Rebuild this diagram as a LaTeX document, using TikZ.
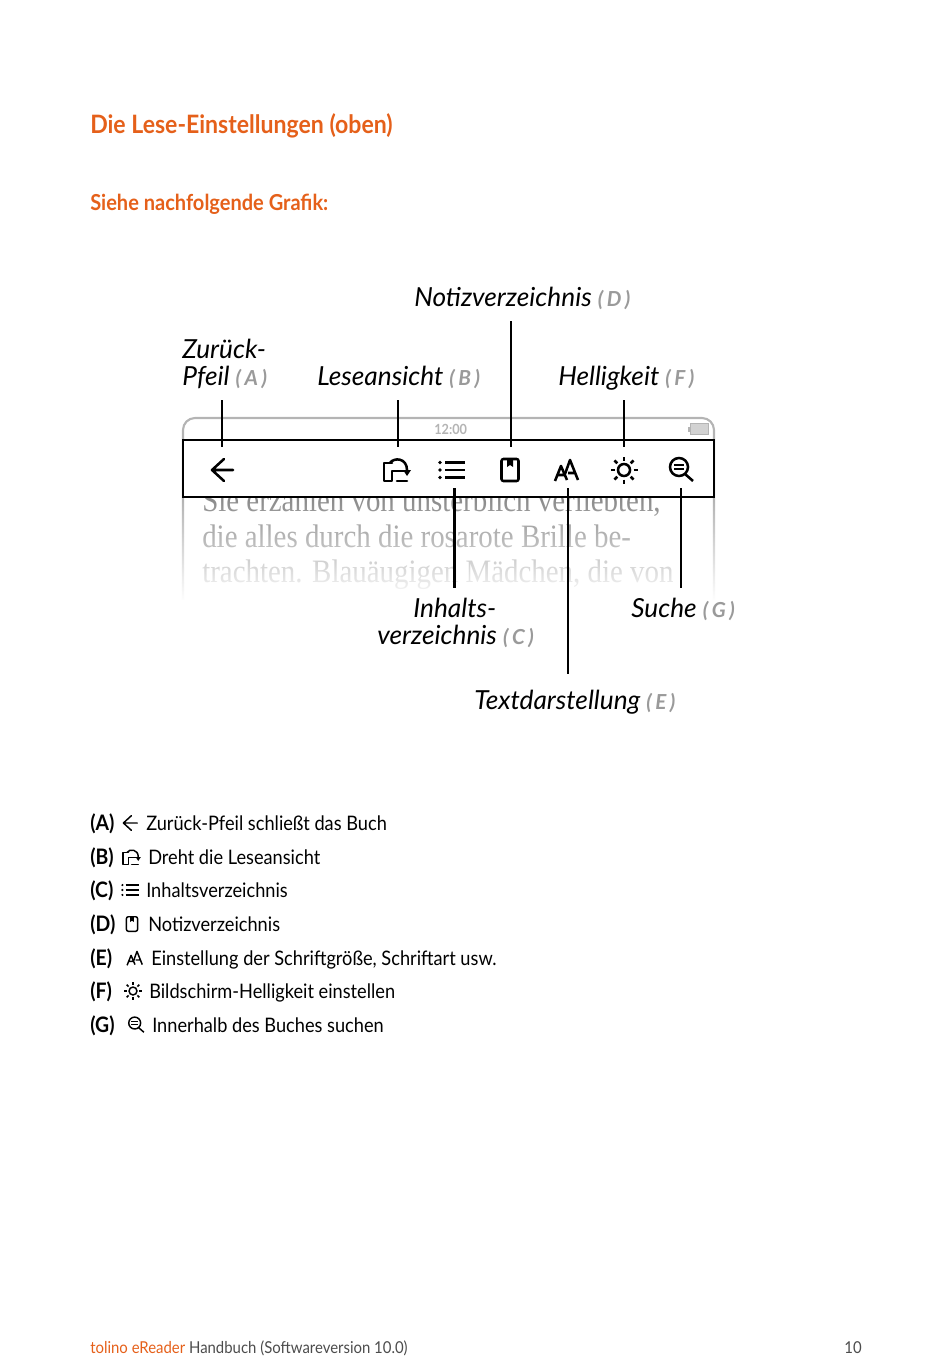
\documentclass[tikz,border=0pt]{standalone}
\usepackage{fontspec}
\usepackage{xcolor}
\setmainfont[FakeStretch=0.91]{Lato}
\newfontfamily\callfont{Lato}
\newfontfamily\readfont[FakeStretch=0.885]{Liberation Serif}
\usetikzlibrary{arrows.meta,fadings}
\definecolor{tolorange}{HTML}{E5601A}
\definecolor{taggray}{HTML}{9A9A9A}
\definecolor{framegray}{HTML}{B4B4B4}
\newcommand{\tagl}[1]{{\fontsize{15.5}{18}\selectfont\bfseries\color{taggray}(\,#1\,)}}

\begin{document}
\begin{tikzpicture}[
  x=0.75pt, y=-0.75pt,
  txt/.style={inner sep=0, anchor=base west, font=\fontsize{15}{20}\selectfont},
  key/.style={txt, font=\fontsize{16}{20}\selectfont\bfseries},
  callout/.style={inner sep=0, anchor=base west, align=left, font=\fontsize{19.7}{20.25}\selectfont\callfont\itshape},
  readline/.style={inner sep=0, anchor=base west, text=black!45, font=\fontsize{24.5}{26}\selectfont\readfont},
  leader/.style={line width=1.9pt},
  backicon/.pic={\draw[line cap=round, line join=round] (-10,0) -- (11,0) (2,-11) -- (-10,0) -- (2,11);},
  rotateicon/.pic={
    \draw[line cap=round, line join=round] (-4,-7) -- (-12,-7) -- (-12,11) -- (-4,11) -- (-4,1) -- (11,1) (1,11) -- (11,11);
    \draw[line cap=round] (-6,-7) .. controls (-2,-13) and (11,-12) .. (11,0);
    \fill (7,0) -- (15,0) -- (11,6) -- cycle;},
  listicon/.pic={
    \draw (-8,-7.5) -- (12,-7.5) (-8,0) -- (12,0) (-8,7.5) -- (12,7.5);
    \fill (-13,-7.5) circle (1.8) (-13,0) circle (1.8) (-13,7.5) circle (1.8);},
  noteicon/.pic={
    \draw[rounded corners=1.5pt] (-8.5,-11) rectangle (8.5,11);
    \fill (-3,-11) -- (3,-11) -- (3,-3) -- (0,-5) -- (-3,-3) -- cycle;},
  fonticon/.pic={
    \draw[line join=round] (-12,11) -- (-6,-4) -- (0,10) (-9.5,5) -- (-2,5);
    \draw[line join=round] (-2,4) -- (3,-10) -- (11,10) (1,3) -- (8,3);},
  sunicon/.pic={
    \draw (0,0) circle (6);
    \foreach \ang in {0,45,...,315} {\draw (\ang:9.5) -- (\ang:13.5);}},
  searchicon/.pic={
    \draw (-2,-3) circle (9);
    \draw (4,4) -- (12,11);
    \draw (-7,-5) -- (3,-5) (-7,-1) -- (3,-1);},
  bigicon/.style={line width=1.9pt},
  smallicon/.style={scale=0.66, line width=1.1pt}
]
  \useasboundingbox (0,0) rectangle (950,1369);

  % head
  \node[inner sep=0, anchor=base west, text=tolorange, font=\fontsize{19}{22}\selectfont\bfseries] (title) at (90,134) {Die Lese-Einstellungen (oben)};
  \node[inner sep=0, anchor=base west, text=tolorange, font=\fontsize{16.5}{20}\selectfont\bfseries] (sub) at (90,211) {Siehe nachfolgende Grafik:};

  % device
  \node[readline] (line1) at (202,511) {Sie erzählen von unsterblich verliebten,};
  \node[readline] (line2) at (202,547) {die alles durch die rosarote Brille be-};
  \node[readline] (line3) at (202,582) {trachten. Blauäugigen Mädchen, die von};
  \draw[framegray, line width=1.6pt, rounded corners=9pt] (183,600) -- (183,418) -- (714,418) -- (714,600);
  \fill[white, path fading=north] (180,500) rectangle (718,601);
  \node[inner sep=0, anchor=base west, text=framegray, font=\fontsize{10.5}{12}\selectfont\bfseries] (clock) at (434,434) {12:00};
  \fill[framegray] (687.5,426.5) rectangle (690,431.5);
  \draw[framegray, line width=.6pt, fill=framegray!60] (690,423.5) rectangle (708.5,434);
  \draw[line width=2pt, fill=white] (183,440) rectangle (714,497);

  \pic[bigicon] at (222,470) {backicon};
  \pic[bigicon] at (396,470) {rotateicon};
  \pic[bigicon] at (453,470) {listicon};
  \pic[bigicon] at (510,470) {noteicon};
  \pic[bigicon] at (567,470) {fonticon};
  \pic[bigicon] at (624,470) {sunicon};
  \pic[bigicon] at (681,470) {searchicon};

  % callouts
  \node[callout] (lblA) at (182,385) {Zurück-\\Pfeil \tagl{A}};
  \node[callout] (lblB) at (317,385) {Leseansicht \tagl{B}};
  \node[callout] (lblC) at (377,644) {\hspace*{27pt}Inhalts-\\verzeichnis \tagl{C}};
  \node[callout] (lblD) at (414,306) {Notizverzeichnis \tagl{D}};
  \node[callout] (lblE) at (474,709) {Textdarstellung \tagl{E}};
  \node[callout] (lblF) at (558,385) {Helligkeit \tagl{F}};
  \node[callout] (lblG) at (631,617) {Suche \tagl{G}};

  \coordinate (a1) at (222,400);
  \coordinate (a2) at (222,447);
  \coordinate (b1) at (398,400);
  \coordinate (b2) at (398,447);
  \coordinate (c1) at (454.5,488);
  \coordinate (c2) at (454.5,588);
  \coordinate (d1) at (511,321);
  \coordinate (d2) at (511,447);
  \coordinate (e1) at (568,488);
  \coordinate (e2) at (568,674);
  \coordinate (f1) at (624,400);
  \coordinate (f2) at (624,447);
  \coordinate (g1) at (681,488);
  \coordinate (g2) at (681,588);
  \draw[leader] (a1) -- (a2);
  \draw[leader] (b1) -- (b2);
  \draw[leader] (c1) -- (c2);
  \draw[leader] (d1) -- (d2);
  \draw[leader] (e1) -- (e2);
  \draw[leader] (f1) -- (f2);
  \draw[leader] (g1) -- (g2);

  % key
  \node[key] (keyA) at (90,830) {(A)};
  \node[key] (keyB) at (90,864) {(B)};
  \node[key] (keyC) at (90,897) {(C)};
  \node[key] (keyD) at (90,931) {(D)};
  \node[key] (keyE) at (90,965) {(E)};
  \node[key] (keyF) at (90,998) {(F)};
  \node[key] (keyG) at (90,1032) {(G)};
  \pic[smallicon] at (130,823) {backicon};
  \pic[smallicon] at (131,857) {rotateicon};
  \pic[smallicon] at (131,890) {listicon};
  \pic[smallicon] at (132,924) {noteicon};
  \pic[smallicon] at (135,958) {fonticon};
  \pic[smallicon] at (133,991) {sunicon};
  \pic[smallicon] at (136,1025) {searchicon};
  \node[txt] (txtA) at (146,830) {Zurück-Pfeil schließt das Buch};
  \node[txt] (txtB) at (148,864) {Dreht die Leseansicht};
  \node[txt] (txtC) at (146,897) {Inhaltsverzeichnis};
  \node[txt] (txtD) at (148,931) {Notizverzeichnis};
  \node[txt] (txtE) at (151,965) {Einstellung der Schriftgröße, Schriftart usw.};
  \node[txt] (txtF) at (149,998) {Bildschirm-Helligkeit einstellen};
  \node[txt] (txtG) at (152,1032) {Innerhalb des Buches suchen};

  % foot
  \node[inner sep=0, anchor=base west, text=black!70, font=\fontsize{12.3}{15}\selectfont] (foot) at (90,1353) {\textcolor{tolorange}{tolino eReader} Handbuch (Softwareversion 10.0)};
  \node[inner sep=0, anchor=base east, text=black!70, font=\fontsize{12.3}{15}\selectfont] (page) at (862,1353) {10};
\end{tikzpicture}
\end{document}
